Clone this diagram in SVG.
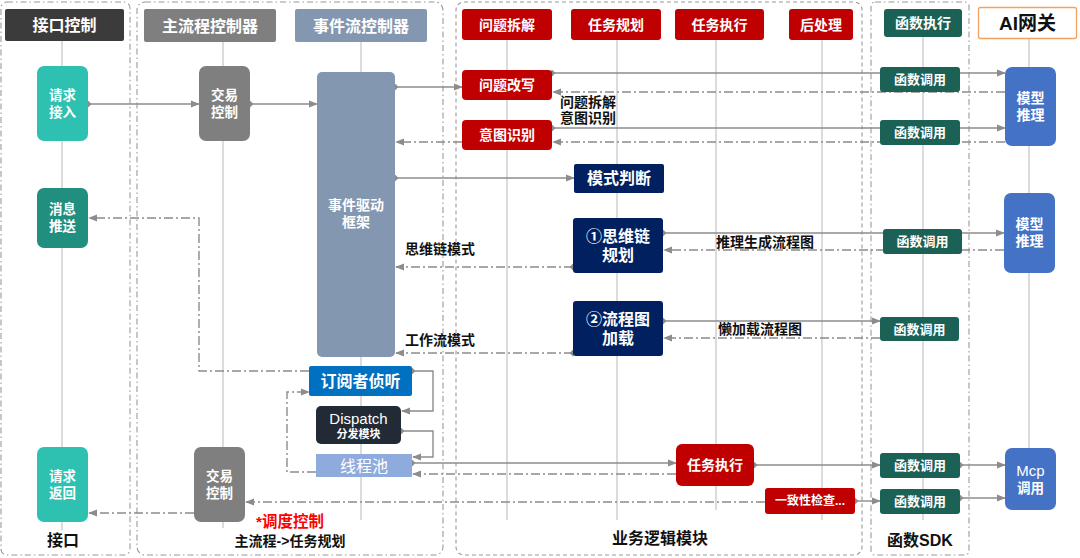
<svg xmlns="http://www.w3.org/2000/svg" width="1080" height="558" viewBox="0 0 1080 558">
<defs>
<style>
text{font-family:'Liberation Sans','Noto Sans CJK SC',sans-serif;text-anchor:middle;dominant-baseline:central}
.w{fill:#fff;font-weight:bold}
.k{fill:#111;font-weight:bold}
.cont{fill:none;stroke:#9a9a9a;stroke-width:1.1;stroke-dasharray:6 3 1.5 3}
.cont2{fill:none;stroke:#9a9a9a;stroke-width:1.1;stroke-dasharray:4 3}
.life{stroke:#c4c4c4;stroke-width:1.2;fill:none}
.s{stroke:#8c8c8c;stroke-width:1.4;fill:none}
.d{stroke:#8c8c8c;stroke-width:1.4;fill:none;stroke-dasharray:9 3 2 3}
</style>
<marker id="arr" viewBox="0 0 10 10" refX="9" refY="5" markerWidth="9" markerHeight="9" orient="auto" markerUnits="userSpaceOnUse"><path d="M0,1 L10,5 L0,9 z" fill="#8c8c8c"/></marker>
<marker id="dot" viewBox="0 0 10 10" refX="5" refY="5" markerWidth="7" markerHeight="7" orient="auto" markerUnits="userSpaceOnUse"><path d="M5,0 L10,5 L5,10 L0,5 z" fill="#8c8c8c"/></marker>
</defs>
<rect width="1080" height="558" fill="#fff"/>

<g id="containers">
<rect class="cont" x="1" y="2" width="129" height="553" rx="6"/>
<rect class="cont" x="137" y="2" width="306" height="553" rx="8"/>
<rect class="cont2" x="456" y="2" width="406" height="553" rx="8"/>
<rect class="cont" x="871" y="2" width="98" height="553" rx="4"/>
</g>

<g id="lifelines">
<path class="life" d="M62,41 V530"/>
<path class="life" d="M223,42 V528"/>
<path class="life" d="M361,42 V520"/>
<path class="life" d="M507,40 V520"/>
<path class="life" d="M617,40 V520"/>
<path class="life" d="M716,40 V510"/>
<path class="life" d="M822,40 V520"/>
<path class="life" d="M923,37 V520"/>
<path class="life" d="M1029,38 V448"/>
</g>

<g id="connectors">
<path class="s" d="M88,104 H199" marker-start="url(#dot)" marker-end="url(#arr)"/>
<path class="s" d="M250,104 H317" marker-start="url(#dot)" marker-end="url(#arr)"/>
<path class="s" d="M395,87 H462" marker-start="url(#dot)" marker-end="url(#arr)"/>
<path class="d" d="M462,142 H396" marker-end="url(#arr)"/>
<path class="s" d="M395,178 H574" marker-start="url(#dot)" marker-end="url(#arr)"/>
<path class="d" d="M573,267 H396" marker-start="url(#dot)" marker-end="url(#arr)"/>
<path class="d" d="M573,353 H396" marker-start="url(#dot)" marker-end="url(#arr)"/>
<path class="s" d="M552,73 H1005" marker-start="url(#dot)" marker-end="url(#arr)"/>
<path class="d" d="M1005,92 H553" marker-end="url(#arr)"/>
<path class="s" d="M552,128 H1005" marker-start="url(#dot)" marker-end="url(#arr)"/>
<path class="d" d="M1005,142 H553" marker-end="url(#arr)"/>
<path class="s" d="M663,233 H1004" marker-start="url(#dot)" marker-end="url(#arr)"/>
<path class="d" d="M1004,250 H664" marker-end="url(#arr)"/>
<path class="s" d="M663,321 H880" marker-start="url(#dot)" marker-end="url(#arr)"/>
<path class="d" d="M880,338 H664" marker-end="url(#arr)"/>
<path class="s" d="M412,371 H433 V411 H402" marker-start="url(#dot)" marker-end="url(#arr)"/>
<path class="s" d="M401,431 H433 V457 H413" marker-start="url(#dot)" marker-end="url(#arr)"/>
<path class="d" d="M316,472 H287 V392 H309" marker-end="url(#arr)"/>
<path class="d" d="M309,371 H199 V218 H89" marker-end="url(#arr)"/>
<path class="s" d="M412,463 H676" marker-start="url(#dot)" marker-end="url(#arr)"/>
<path class="d" d="M676,474 H413" marker-end="url(#arr)"/>
<path class="s" d="M754,465 H880" marker-start="url(#dot)" marker-end="url(#arr)"/>
<path class="d" d="M765,502 H246" marker-end="url(#arr)"/>
<path class="d" d="M194,513 H89" marker-end="url(#arr)"/>
<path class="s" d="M855,501 H880" marker-start="url(#dot)" marker-end="url(#arr)"/>
<path class="s" d="M960,465 H1005" marker-start="url(#dot)" marker-end="url(#arr)"/>
<path class="s" d="M960,498 H1005" marker-start="url(#dot)" marker-end="url(#arr)"/>
<text class="k" x="588" y="102" font-size="14">问题拆解</text>
<text class="k" x="588" y="118" font-size="14">意图识别</text>
<text class="k" x="440" y="249" font-size="14">思维链模式</text>
<text class="k" x="440" y="340" font-size="14">工作流模式</text>
<text class="k" x="765" y="242" font-size="14">推理生成流程图</text>
<text class="k" x="760" y="329" font-size="14">懒加载流程图</text>
</g>

<g id="h-jiekou"><rect x="5" y="9" width="119" height="32" rx="2" fill="#3b3b3b"/><text class="w" x="64.5" y="25" font-size="16">接口控制</text></g>
<g id="h-main"><rect x="144" y="9" width="132" height="33" rx="2" fill="#7f7f7f"/><text class="w" x="210" y="26" font-size="16">主流程控制器</text></g>
<g id="h-event"><rect x="295" y="9" width="132" height="33" rx="2" fill="#8497b0"/><text class="w" x="361" y="26" font-size="16">事件流控制器</text></g>
<g id="h-wtcj"><rect x="462" y="9" width="90" height="31" rx="3" fill="#c00000"/><text class="w" x="507" y="24.5" font-size="14">问题拆解</text></g>
<g id="h-rwgh"><rect x="571" y="9" width="90" height="31" rx="3" fill="#c00000"/><text class="w" x="616" y="24.5" font-size="14">任务规划</text></g>
<g id="h-rwzx"><rect x="675" y="9" width="89" height="31" rx="3" fill="#c00000"/><text class="w" x="719.5" y="24.5" font-size="14">任务执行</text></g>
<g id="h-hcl"><rect x="789" y="9" width="64" height="31" rx="3" fill="#c00000"/><text class="w" x="821" y="24.5" font-size="14">后处理</text></g>
<g id="h-hszx"><rect x="884" y="9" width="78" height="28" rx="3" fill="#1b6156"/><text class="w" x="923" y="23" font-size="14">函数执行</text></g>
<g id="h-ai"><rect x="978.5" y="7.5" width="98" height="31" rx="2" fill="#fff" stroke="#f4a15d" stroke-width="1.3"/><text class="k" x="1027.5" y="23" font-size="19">AI网关</text></g>

<g id="n-qqjr"><rect x="37" y="66" width="51" height="75" rx="7" fill="#2ec1b1"/><text class="w" x="62.5" y="95" font-size="13.5">请求</text><text class="w" x="62.5" y="112" font-size="13.5">接入</text></g>
<g id="n-jykz1"><rect x="199" y="66" width="51" height="75" rx="7" fill="#7f7f7f"/><text class="w" x="224.5" y="95" font-size="13.5">交易</text><text class="w" x="224.5" y="112" font-size="13.5">控制</text></g>
<g id="n-sjqd"><rect x="317" y="72" width="78" height="285" rx="5" fill="#8497b0"/><text class="w" x="356" y="205" font-size="14">事件驱动</text><text class="w" x="356" y="222" font-size="14">框架</text></g>
<g id="n-xxts"><rect x="37" y="188" width="51" height="60" rx="7" fill="#218f80"/><text class="w" x="62.5" y="209" font-size="13.5">消息</text><text class="w" x="62.5" y="226" font-size="13.5">推送</text></g>
<g id="n-qqfh"><rect x="37" y="447" width="51" height="75" rx="7" fill="#2ec1b1"/><text class="w" x="62.5" y="476" font-size="13.5">请求</text><text class="w" x="62.5" y="493" font-size="13.5">返回</text></g>
<g id="n-jykz2"><rect x="194" y="447" width="51" height="75" rx="7" fill="#7f7f7f"/><text class="w" x="219.5" y="476" font-size="13.5">交易</text><text class="w" x="219.5" y="493" font-size="13.5">控制</text></g>
<g id="n-dyz"><rect x="309" y="366" width="103" height="30" rx="2" fill="#0070c0"/><text class="w" x="360.5" y="381" font-size="16" font-weight="normal">订阅者侦听</text></g>
<g id="n-dispatch"><rect x="316" y="406" width="85" height="38" rx="5" fill="#222a35"/><text x="358.5" y="418" font-size="15" fill="#fff">Dispatch</text><text class="w" x="358.5" y="434" font-size="11">分发模块</text></g>
<g id="n-xcc"><rect x="316" y="454" width="96" height="23" fill="#8faadc"/><text x="364" y="466" font-size="16" fill="#fff">线程池</text></g>
<g id="n-wtgx"><rect x="462" y="70" width="90" height="30" rx="4" fill="#c00000"/><text class="w" x="507" y="85" font-size="14">问题改写</text></g>
<g id="n-ytsb"><rect x="462" y="120" width="90" height="30" rx="4" fill="#c00000"/><text class="w" x="507" y="135" font-size="14">意图识别</text></g>
<g id="n-mspd"><rect x="574" y="164" width="90" height="29" rx="2" fill="#002060"/><text class="w" x="619" y="178.5" font-size="16">模式判断</text></g>
<g id="n-swl"><rect x="573" y="218" width="90" height="55" rx="3" fill="#002060"/><text class="w" x="618" y="236" font-size="16">①思维链</text><text class="w" x="618" y="255" font-size="16">规划</text></g>
<g id="n-lct"><rect x="573" y="301" width="90" height="55" rx="3" fill="#002060"/><text class="w" x="618" y="319" font-size="16">②流程图</text><text class="w" x="618" y="338" font-size="16">加载</text></g>
<g id="n-rwzx"><rect x="676" y="444" width="78" height="42" rx="6" fill="#c00000"/><text class="w" x="715" y="465" font-size="14">任务执行</text></g>
<g id="n-yzx"><rect x="765" y="488" width="90" height="26" rx="3" fill="#c00000"/><text class="w" x="810" y="501" font-size="12">一致性检查...</text></g>
<g id="n-hs1"><rect x="880" y="67" width="80" height="25" rx="3" fill="#1b6156"/><text class="w" x="920" y="79.5" font-size="13">函数调用</text></g>
<g id="n-hs2"><rect x="880" y="120" width="80" height="25" rx="3" fill="#1b6156"/><text class="w" x="920" y="132.5" font-size="13">函数调用</text></g>
<g id="n-hs3"><rect x="883" y="229" width="79" height="25" rx="3" fill="#1b6156"/><text class="w" x="922.5" y="241.5" font-size="13">函数调用</text></g>
<g id="n-hs4"><rect x="880" y="317" width="79" height="24" rx="3" fill="#1b6156"/><text class="w" x="919.5" y="329" font-size="13">函数调用</text></g>
<g id="n-hs5"><rect x="880" y="453" width="80" height="25" rx="3" fill="#1b6156"/><text class="w" x="920" y="465.5" font-size="13">函数调用</text></g>
<g id="n-hs6"><rect x="880" y="489" width="80" height="25" rx="3" fill="#1b6156"/><text class="w" x="920" y="501.5" font-size="13">函数调用</text></g>
<g id="n-mx1"><rect x="1005" y="67" width="51" height="79" rx="7" fill="#4472c4"/><text class="w" x="1030.5" y="98" font-size="14">模型</text><text class="w" x="1030.5" y="115" font-size="14">推理</text></g>
<g id="n-mx2"><rect x="1004" y="193" width="51" height="80" rx="7" fill="#4472c4"/><text class="w" x="1029.5" y="224" font-size="14">模型</text><text class="w" x="1029.5" y="241" font-size="14">推理</text></g>
<g id="n-mcp"><rect x="1005" y="448" width="51" height="62" rx="7" fill="#4472c4"/><text x="1030.5" y="470" font-size="15" fill="#fff">Mcp</text><text class="w" x="1030.5" y="488" font-size="13.5">调用</text></g>

<g id="labels">
<text class="k" x="63" y="540" font-size="16">接口</text>
<text x="290" y="521" font-size="15.5" font-weight="bold" fill="#ff0000">*调度控制</text>
<text class="k" x="290" y="541" font-size="14">主流程-&gt;任务规划</text>
<text class="k" x="660" y="538" font-size="16">业务逻辑模块</text>
<text class="k" x="920" y="540" font-size="16">函数SDK</text>
</g>
</svg>
